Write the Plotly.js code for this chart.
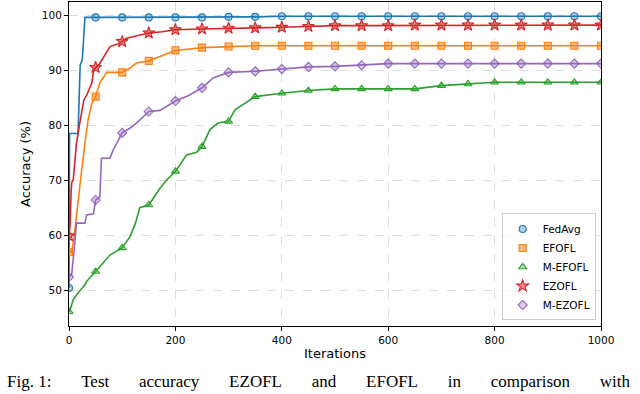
<!DOCTYPE html>
<html>
<head>
<meta charset="utf-8">
<script src="https://cdn.plot.ly/plotly-3.0.1.min.js"></script>
<style>
  html, body { margin: 0; padding: 0; background: #fff; }
  #graph { width: 640px; height: 394px; }
</style>
</head>
<body>
<div id="graph"></div>
<script>
'use strict';

var seriesNames = ['FedAvg', 'EFOFL', 'M-EFOFL', 'EZOFL', 'M-EZOFL'];

var colors = ['#1f77b4', //FedAvg blue
'#ff7f0e', //EFOFL orange
'#2ca02c', //M-EFOFL green
'#d62728', //EZOFL red
'#9467bd' //M-EZOFL purple
];

var fillColors = ['rgba(31,119,180,0.35)', 'rgba(255,127,14,0.55)', 'rgba(44,160,44,0.35)', 'rgba(214,39,40,0.55)', 'rgba(148,103,189,0.35)'];

var symbols = ['circle', 'square', 'triangle-up', 'star', 'diamond'];

// accuracy (%)
var fedAvgIters = [0, 1, 17, 19, 21, 25, 30, 50, 100, 150, 200, 250, 300, 350, 400, 450, 500, 550, 600, 650, 700, 750, 800, 850, 900, 950, 1000];
var fedAvgAcc = [50.5, 78.6, 78.6, 86, 91, 92, 99.7, 99.7, 99.7, 99.7, 99.7, 99.7, 99.8, 99.8, 99.9, 99.9, 99.9, 99.9, 99.9, 99.9, 99.9, 99.9, 99.9, 99.9, 99.9, 99.9, 99.9];

var efoflIters = [0, 5, 11, 13, 21, 30, 36, 43, 50, 58, 71, 100, 115, 127, 150, 171, 200, 250, 300, 350, 400, 450, 500, 550, 600, 650, 700, 750, 800, 850, 900, 950, 1000];
var efoflAcc = [57, 57, 61, 63, 69.6, 76.9, 81.1, 84.1, 85.3, 87.8, 89.7, 89.7, 90.5, 91.4, 91.8, 92.6, 93.7, 94.2, 94.4, 94.55, 94.55, 94.55, 94.55, 94.55, 94.55, 94.55, 94.55, 94.55, 94.55, 94.55, 94.55, 94.55, 94.55];

var mEfoflIters = [0, 2, 8, 17, 30, 33, 50, 77, 100, 115, 125, 133, 150, 156, 170, 184, 200, 221, 240, 250, 265, 280, 300, 312, 330, 350, 400, 428, 450, 500, 550, 600, 650, 700, 750, 800, 850, 900, 950, 1000];
var mEfoflAcc = [46.2, 46.5, 48.4, 49.6, 51.1, 51.7, 53.5, 56.5, 57.8, 59.9, 62.3, 65.1, 65.6, 66.5, 68.5, 70.2, 71.7, 74.7, 75.2, 76.2, 79.3, 80.5, 80.8, 82.9, 84, 85.3, 85.9, 86.2, 86.4, 86.7, 86.7, 86.7, 86.7, 87.3, 87.6, 87.9, 87.9, 87.9, 87.9, 87.9];

var ezoflIters = [0, 2, 4, 5, 8, 14, 22, 28, 33, 43, 46, 50, 57, 64, 77, 90, 100, 108, 139, 150, 175, 200, 250, 300, 350, 400, 450, 500, 550, 600, 650, 700, 750, 800, 850, 900, 950, 1000];
var ezoflAcc = [60, 62, 68, 69.6, 70.2, 76.8, 81.5, 84.7, 85.5, 87.8, 89.9, 90.6, 91.2, 92.3, 94.4, 94.8, 95.3, 95.9, 96.5, 96.85, 97.1, 97.45, 97.6, 97.75, 97.8, 97.9, 98.05, 98.2, 98.2, 98.2, 98.3, 98.3, 98.3, 98.3, 98.3, 98.3, 98.3, 98.3];

var mEzoflIters = [0, 5, 11, 14, 30, 33, 46, 50, 58, 61, 77, 83, 100, 115, 127, 150, 171, 200, 225, 250, 271, 300, 350, 400, 450, 500, 550, 600, 650, 700, 750, 800, 850, 900, 950, 1000];
var mEzoflAcc = [52.5, 53, 58.7, 62.3, 62.3, 63.8, 64, 66.5, 67.1, 74.1, 74.1, 75.6, 78.7, 79.6, 80.5, 82.6, 82.8, 84.5, 85.5, 86.9, 88.7, 89.7, 89.9, 90.3, 90.7, 90.8, 91.0, 91.3, 91.3, 91.3, 91.3, 91.3, 91.3, 91.3, 91.3, 91.3];

var xTicks = [0, 200, 400, 600, 800, 1000];
var yTicks = [50, 60, 70, 80, 90, 100];

// caption words of the paper figure under the plot
var captionWords = ['Fig. 1:', 'Test', 'accuracy', 'EZOFL', 'and', 'EFOFL', 'in', 'comparison', 'with'];

var allIters = [fedAvgIters, efoflIters, mEfoflIters, ezoflIters, mEzoflIters];
var allAcc = [fedAvgAcc, efoflAcc, mEfoflAcc, ezoflAcc, mEzoflAcc];

function markEvery(iters, acc, step) {
  var x = [];
  var y = [];
  for (var i = 0; i < iters.length; i++) {
    if (iters[i] % step === 0) {
      x.push(iters[i]);
      y.push(acc[i]);
    }
  }
  return { x: x, y: y };
}

function plotAccuracy(graphElement) {
  var data = [];

  for (var i = 0; i < seriesNames.length; i++) {
    var trace = { x: allIters[i],
      y: allAcc[i],
      mode: 'lines',
      showlegend: false,
      hoverinfo: 'skip',
      line: { color: colors[i], width: 1.6 }
    };

    data.push(trace);

    var marks = markEvery(allIters[i], allAcc[i], 50);

    trace = { x: marks.x,
      y: marks.y,
      mode: 'markers',
      name: seriesNames[i],
      marker: {
        symbol: symbols[i],
        size: symbols[i] === 'star' ? 9 : 7,
        color: fillColors[i],
        line: { color: colors[i], width: 1.1 }
      }
    };

    data.push(trace);
  }

  var axisStyle = {
    showline: true,
    mirror: true,
    linecolor: '#000',
    linewidth: 1,
    ticks: 'outside',
    ticklen: 4,
    tickcolor: '#000',
    showgrid: true,
    gridcolor: '#dddddd',
    griddash: 'dash',
    gridwidth: 1,
    zeroline: false,
    tickfont: { family: 'DejaVu Sans', size: 10.5, color: '#000' }
  };

  var gap = '\u00a0\u00a0\u00a0\u00a0\u00a0\u00a0\u00a0';

  var layout = {
    width: 640,
    height: 394,
    margin: { l: 69, r: 39, t: 2, b: 68 },
    paper_bgcolor: '#fff',
    plot_bgcolor: '#fff',
    font: { family: 'DejaVu Sans', color: '#000' },
    xaxis: Object.assign({}, axisStyle, {
      range: [0, 1000],
      tickvals: xTicks,
      title: { text: 'Iterations', font: { size: 13 }, standoff: 4 }
    }),
    yaxis: Object.assign({}, axisStyle, {
      range: [43.6, 102.5],
      tickvals: yTicks,
      title: { text: 'Accuracy (%)', font: { size: 13 }, standoff: 8 }
    }),
    legend: {
      x: 0.99,
      y: 0.017,
      xanchor: 'right',
      yanchor: 'bottom',
      bgcolor: 'rgba(255,255,255,0.8)',
      bordercolor: '#cccccc',
      borderwidth: 1,
      font: { family: 'DejaVu Sans', size: 10.5 },
      tracegroupgap: 0
    },
    annotations: [{
      text: captionWords.join(gap),
      xref: 'paper',
      yref: 'paper',
      x: -0.12,
      y: -0.207,
      xanchor: 'left',
      yanchor: 'bottom',
      showarrow: false,
      font: { family: 'Liberation Serif', size: 17, color: '#000' }
    }]
  };

  Plotly.newPlot(graphElement, data, layout, { displayModeBar: false, staticPlot: true });
}

plotAccuracy(document.getElementById('graph'));
</script>
</body>
</html>
